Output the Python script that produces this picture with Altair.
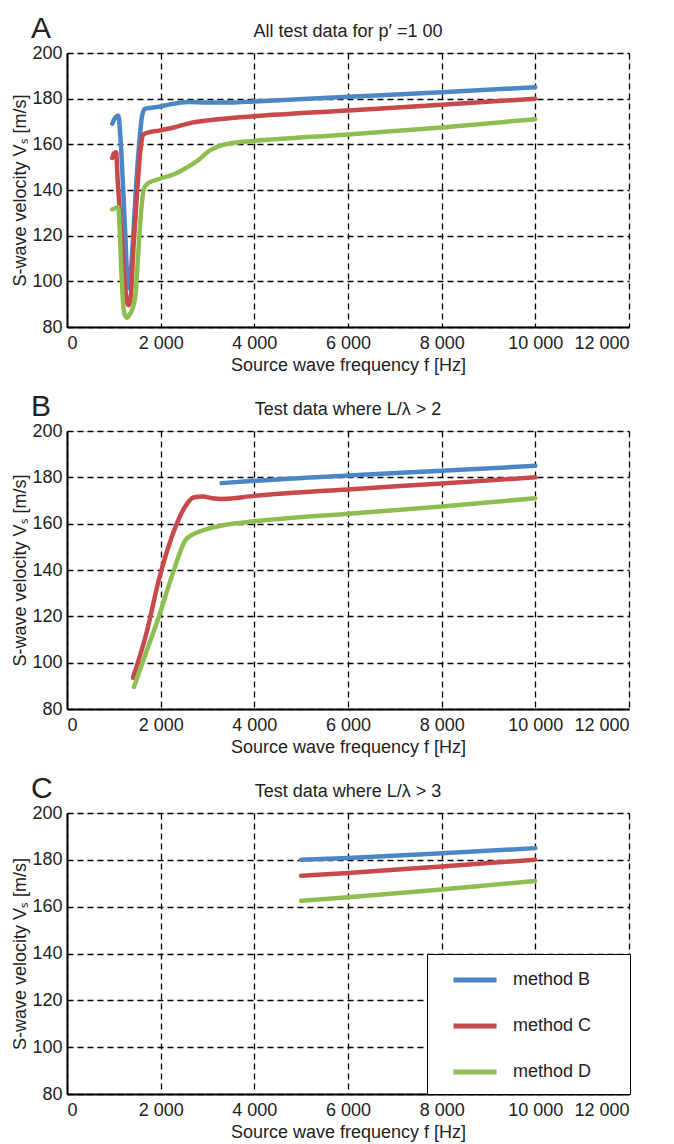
import altair as alt
import pandas as pd

FONT = "Liberation Sans"
methods = ["method B", "method C", "method D"]
colors = ["#4b87c7", "#c9484b", "#8fbe50"]

# ---------- Panel A : all test data ----------
a_b_f = [967, 1010, 1095, 1150, 1200, 1250, 1290, 1310, 1340, 1400, 1470, 1540, 1600, 1660, 1800, 1964, 2200, 2600, 3000, 3500, 4000, 6000, 8000, 10000]
a_b_v = [169, 171, 172.5, 160, 140, 118, 99, 97, 99, 115, 140, 160, 172, 175.5, 176, 176.5, 177.5, 178.5, 178.3, 178.3, 178.8, 180.8, 182.8, 185]
a_c_f = [967, 1000, 1050, 1080, 1150, 1230, 1280, 1320, 1360, 1420, 1500, 1570, 1640, 1800, 1964, 2300, 2668, 3000, 3500, 4000, 6000, 8000, 10000]
a_c_v = [154, 156, 156.5, 145, 125, 100, 91, 89.5, 93, 115, 140, 158, 164.5, 165.5, 166, 167.5, 169.5, 170.5, 171.5, 172.3, 174.8, 177.3, 180]
a_d_f = [967, 1095, 1120, 1160, 1200, 1240, 1290, 1340, 1400, 1466, 1520, 1580, 1643, 1714, 1964, 2300, 2533, 2800, 3030, 3300, 3528, 4000, 6000, 8000, 10000]
a_d_v = [131.5, 132.5, 125, 105, 90, 85, 84, 85.5, 88, 95, 112, 130, 140.5, 142.7, 144.8, 147, 149.5, 153, 157, 159.5, 160.6, 161.5, 164.3, 167.4, 171]

# ---------- Panel B : L/lambda > 2 ----------
b_b_f = [3300, 4000, 6000, 8000, 10000]
b_b_v = [177.5, 178.5, 180.8, 182.8, 185]
b_c_f = [1409, 1700, 1964, 2250, 2533, 2700, 2900, 3100, 3315, 4000, 6000, 8000, 10000]
b_c_v = [93.5, 113, 136, 155, 167.7, 171.3, 171.7, 171, 170.7, 172, 174.8, 177.3, 180]
b_d_f = [1430, 1700, 1964, 2250, 2533, 2700, 2888, 3387, 4000, 6000, 8000, 10000]
b_d_v = [89.5, 105, 120, 138, 153, 155.5, 157, 159.5, 161, 164.3, 167.4, 171]

# ---------- Panel C : L/lambda > 3 ----------
c_b_f = [5000, 6000, 8000, 10000]
c_b_v = [180, 180.8, 182.8, 185]
c_c_f = [5000, 6000, 8000, 10000]
c_c_v = [173.2, 174.4, 177.2, 180]
c_d_f = [5000, 6000, 8000, 10000]
c_d_v = [162.5, 164, 167.3, 171]

x_ticks = [0, 2000, 4000, 6000, 8000, 10000, 12000]
y_ticks = [80, 100, 120, 140, 160, 180, 200]

titles = ["All test data for p\u2032 =1 00", "Test data where L/\u03bb > 2", "Test data where L/\u03bb > 3"]
letters = ["A", "B", "C"]
heights = [274, 278, 281]


def frame(series):
    rows = []
    for m, (fs, vs) in zip(methods, series):
        for i, (f, v) in enumerate(zip(fs, vs)):
            rows.append({"f": f, "v": v, "method": m, "i": i})
    return pd.DataFrame(rows)


panels = [
    frame([(a_b_f, a_b_v), (a_c_f, a_c_v), (a_d_f, a_d_v)]),
    frame([(b_b_f, b_b_v), (b_c_f, b_c_v), (b_d_f, b_d_v)]),
    frame([(c_b_f, c_b_v), (c_c_f, c_c_v), (c_d_f, c_d_v)]),
]

grid_kw = dict(grid=True, gridColor="black", gridDash=[6, 4], gridWidth=1.3, gridOpacity=1,
               domainColor="black", domainWidth=2, ticks=False,
               labelFont=FONT, labelFontSize=18, labelColor="#222",
               titleFont=FONT, titleFontSize=18, titleFontWeight="normal", titleColor="#222")


def panel(k):
    df = panels[k]
    if k == 2:
        legend = alt.Legend(orient="none", legendX=360, legendY=141,
                            title="M" * 34, titleOrient="bottom", titleColor="white",
                            titleFontSize=7, titlePadding=3, titleLimit=400,
                            symbolType="stroke", symbolSize=1849, symbolStrokeWidth=5,
                            symbolOffset=22, labelOffset=14, rowPadding=12, padding=2,
                            labelFont=FONT, labelFontSize=18, labelColor="#222",
                            strokeColor="black", fillColor="white")
    else:
        legend = None
    lines = alt.Chart(df).mark_line(strokeWidth=4.5, strokeCap="round", strokeJoin="round", interpolate="monotone").encode(
        x=alt.X("f:Q", scale=alt.Scale(domain=[0, 12000], nice=False),
                axis=alt.Axis(values=x_ticks, title="Source wave frequency f [Hz]", titlePadding=4,
                              labelExpr="replace(format(datum.value, ','), ',', ' ')", labelPadding=7, **grid_kw)),
        y=alt.Y("v:Q", scale=alt.Scale(domain=[80, 200], nice=False, zero=False),
                axis=alt.Axis(values=y_ticks, title="S-wave velocity V\u209b [m/s]", titlePadding=2,
                              labelPadding=5, **grid_kw)),
        color=alt.Color("method:N", scale=alt.Scale(domain=methods, range=colors), legend=legend),
        order="i:Q",
    )
    text_df = pd.DataFrame({"letter": [letters[k]], "title": [titles[k]]})
    letter = alt.Chart(text_df).mark_text(
        font=FONT, fontSize=30, align="left", baseline="alphabetic", color="#222"
    ).encode(text="letter:N", x=alt.value(-36), y=alt.value(-15))
    title = alt.Chart(text_df).mark_text(
        font=FONT, fontSize=18, align="center", baseline="alphabetic", color="#222"
    ).encode(text="title:N", x=alt.value(281), y=alt.value(-16))
    return alt.layer(lines, letter, title).properties(width=562, height=heights[k])


chart = alt.vconcat(panel(0), panel(1), panel(2), spacing=16).resolve_scale(color="independent").configure_view(
    stroke=None
).configure(padding={"left": 3, "top": 5, "right": 5, "bottom": 0}, background="white")

chart.save("out.html", embed_options={"renderer": "svg", "actions": False})
